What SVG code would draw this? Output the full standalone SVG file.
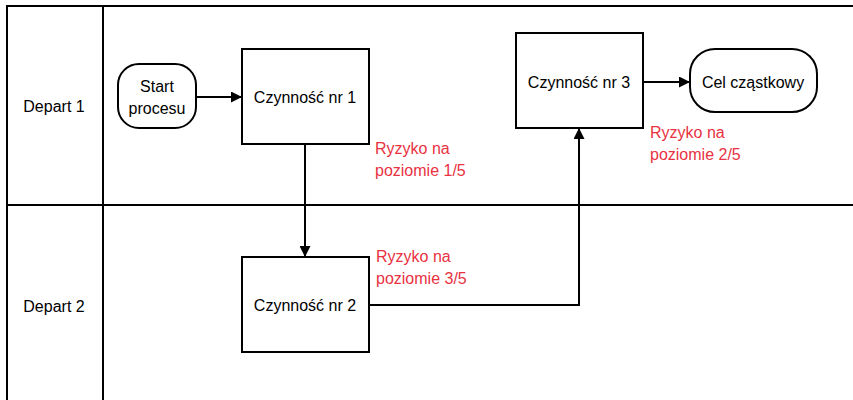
<svg xmlns="http://www.w3.org/2000/svg" width="853" height="400" viewBox="0 0 853 400">
  <style>
    .lane { fill: none; stroke: #000; stroke-width: 2; }
    .box { fill: #fff; stroke: #000; stroke-width: 2; }
    .lbl { font-family: "Liberation Sans", Arial, sans-serif; font-size: 16px; fill: #000; text-anchor: middle; }
    .risk { font-family: "Liberation Sans", Arial, sans-serif; font-size: 16px; fill: #e8323f; }
    .edge { fill: none; stroke: #000; stroke-width: 2; }
  </style>
  <defs>
    <marker id="arrow" markerWidth="11" markerHeight="11" refX="11" refY="5.5" orient="auto" markerUnits="userSpaceOnUse">
      <path d="M0,0 L11,5.5 L0,11 Z" fill="#000"/>
    </marker>
  </defs>

  <rect width="853" height="400" fill="#fff"/>

  <!-- swimlanes -->
  <g id="lanes">
    <path class="lane" d="M7,400 V6 H853"/>
    <path class="lane" d="M103,6 V400"/>
    <path class="lane" d="M7,205 H853"/>
    <text class="lbl" x="54" y="112">Depart 1</text>
    <text class="lbl" x="54" y="312">Depart 2</text>
  </g>

  <!-- connectors -->
  <g id="connectors">
    <path class="edge" d="M196,97 H242" marker-end="url(#arrow)"/>
    <path class="edge" d="M305,144 V257" marker-end="url(#arrow)"/>
    <path class="edge" d="M369,305 H579 V128" marker-end="url(#arrow)"/>
    <path class="edge" d="M643,82 H690" marker-end="url(#arrow)"/>
  </g>

  <g id="start">
    <rect class="box" x="118" y="64" width="78" height="64" rx="21" ry="21"/>
    <text class="lbl" x="157" y="92">Start</text>
    <text class="lbl" x="157" y="114">procesu</text>
  </g>

  <g id="step1">
    <rect class="box" x="242" y="49" width="127" height="95"/>
    <text class="lbl" x="305" y="103">Czynność nr 1</text>
  </g>

  <g id="step2">
    <rect class="box" x="242" y="257" width="127" height="95"/>
    <text class="lbl" x="305" y="311">Czynność nr 2</text>
  </g>

  <g id="step3">
    <rect class="box" x="516" y="33" width="127" height="95"/>
    <text class="lbl" x="579" y="88">Czynność nr 3</text>
  </g>

  <g id="goal">
    <rect class="box" x="690" y="49" width="127" height="63" rx="25" ry="25"/>
    <text class="lbl" x="753" y="88">Cel cząstkowy</text>
  </g>

  <!-- risk notes -->
  <g id="risk1">
    <text class="risk" x="375" y="154">Ryzyko na</text>
    <text class="risk" x="375" y="176">poziomie 1/5</text>
  </g>
  <g id="risk2">
    <text class="risk" x="650" y="138">Ryzyko na</text>
    <text class="risk" x="650" y="160">poziomie 2/5</text>
  </g>
  <g id="risk3">
    <text class="risk" x="376" y="262">Ryzyko na</text>
    <text class="risk" x="376" y="284">poziomie 3/5</text>
  </g>
</svg>
